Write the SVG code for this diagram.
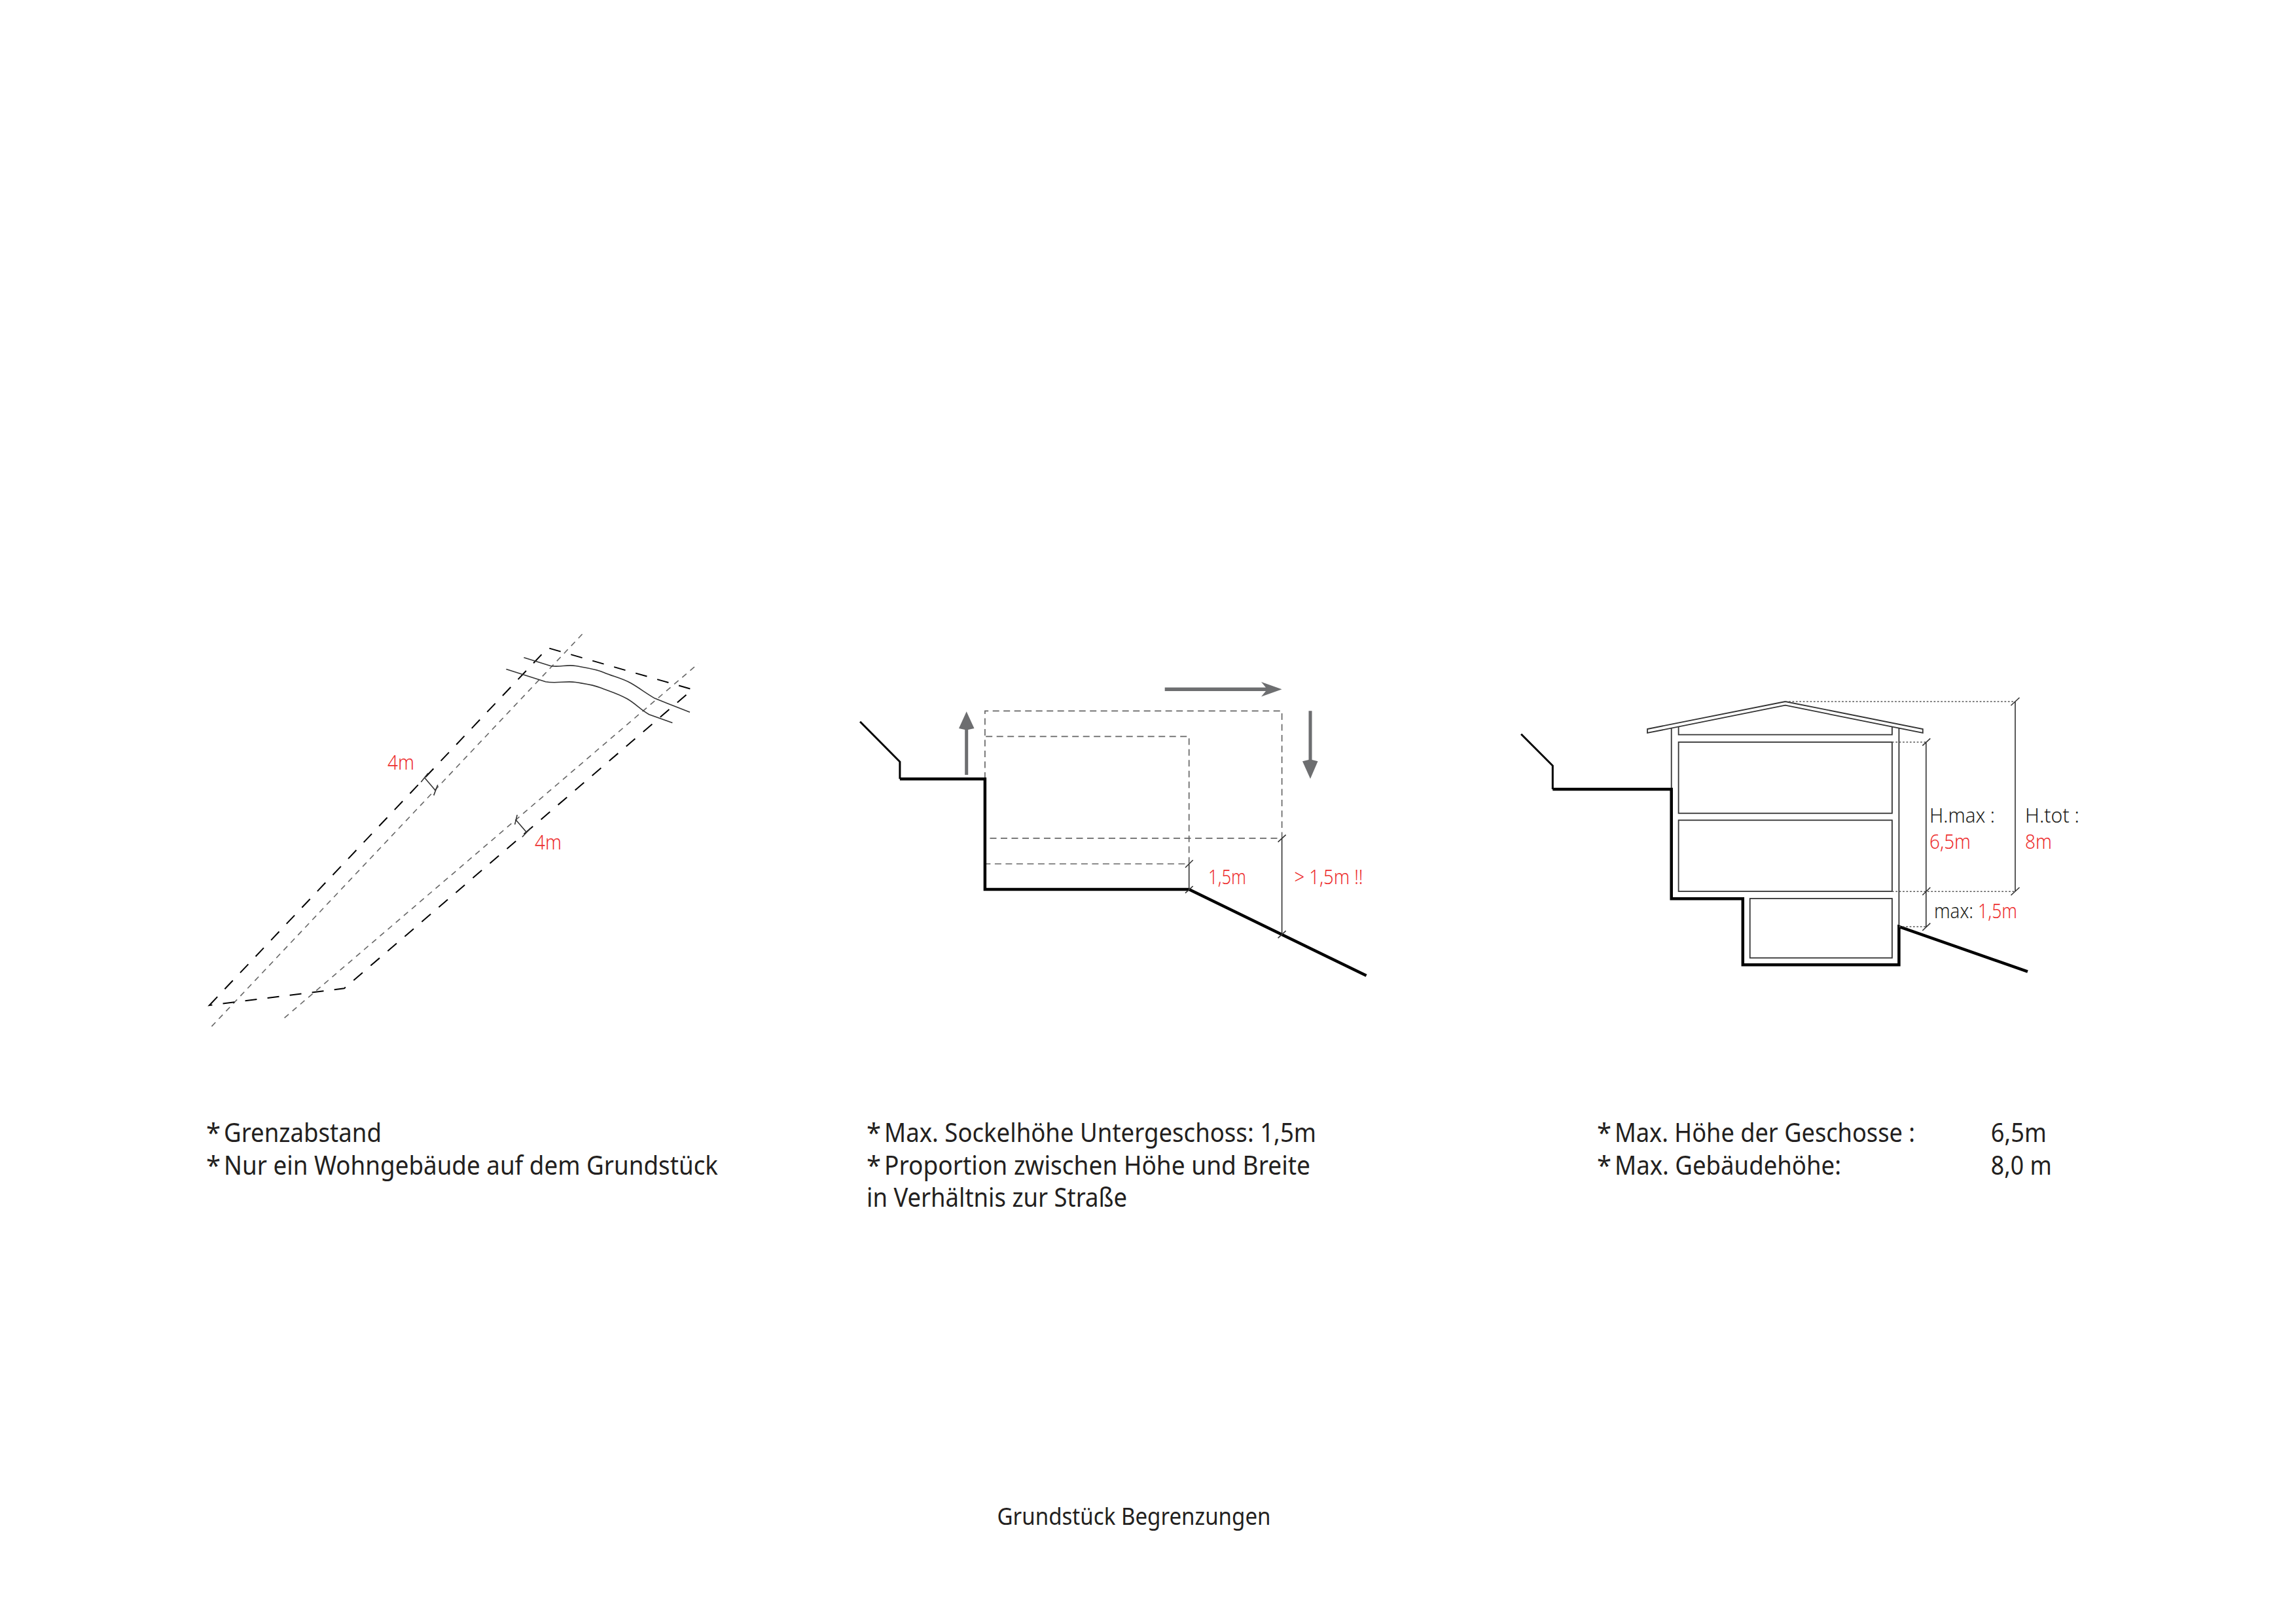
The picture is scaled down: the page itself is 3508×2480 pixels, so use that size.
<svg xmlns="http://www.w3.org/2000/svg" width="3508" height="2480" viewBox="0 0 3508 2480">
<style>
text{font-family:"Noto Sans","Open Sans","Liberation Sans",sans-serif}
.t{font-size:40px;fill:#231f20}
.l{font-size:31px;font-weight:300;fill:#ed2f2f}
.k{font-size:31px;font-weight:300;fill:#231f20}
.g{fill:none;stroke:#000;stroke-width:4.5;stroke-linejoin:miter}
.g2{fill:none;stroke:#000;stroke-width:3}
.th{fill:none;stroke:#333;stroke-width:1.6}
.dg{fill:none;stroke:#666;stroke-width:1.6;stroke-dasharray:8.5 7.5}
.dk{fill:none;stroke:#000;stroke-width:2;stroke-dasharray:18 16.3}
.dr{fill:none;stroke:#666;stroke-width:1.7;stroke-dasharray:10 6.5}
.dot{fill:none;stroke:#555;stroke-width:1.6;stroke-dasharray:2.7 2.7}
.wall{fill:none;stroke:#333;stroke-width:1.8}
.arr{fill:#6d6e70}
</style>
<rect width="3508" height="2480" fill="#fff"/>
<g id="site-plan">
<path class="dg" d="M323.4 1568.4L893.8 964.6M434.6 1555.3L1066.7 1014.2"/>
<path class="dk" d="M319.8 1536.2L837.1 990L1058 1053.6L525.9 1510.3Z"/>
<path class="th" d="M800.4 1004.8L841.2 1017.5C855 1020 866 1015 879.5 1017.5S910 1022 922.9 1027.7S950 1036 963.7 1043.8S985 1058 1000.4 1067.1L1054 1088.3"/>
<path class="th" d="M773.4 1022.6L833.6 1041.7C850 1045 865 1040 879.5 1042.5S905 1046 917.8 1051S945 1060 958.6 1068S978 1084 991.7 1091.7L1027.4 1104.4"/>
<path class="th" d="M648.4 1187.9L665.2 1207.8M643.3 1195L654 1181.5M662.7 1215.4L668.8 1199.3M787.7 1252.3L804.5 1271.8M786.6 1259.9L790.2 1245.1M797.9 1279L810.6 1265.4"/>
<text class="l" x="592" y="1175.5" textLength="41" lengthAdjust="spacingAndGlyphs">4m</text>
<text class="l" x="817" y="1298" textLength="41" lengthAdjust="spacingAndGlyphs">4m</text>
</g>
<g id="plinth-section">
<path class="dr" d="M1504.9 1190V1086.3H1958.6V1280.8H1504.9M1504.9 1190V1125.3H1816.7V1320H1504.9"/>
<path class="g2" d="M1314.1 1102.7L1374.9 1164V1190.3"/>
<path class="g" d="M1374.9 1190.3H1504.9V1359H1816.7L2087.6 1490.7"/>
<path class="th" d="M1816.7 1320V1359M1958.6 1280.8V1427.3M1811 1325.7L1822.7 1314.3M1811 1364.7L1822.7 1354M1952.6 1286.7L1964.6 1275.7M1952.6 1433.3L1964.6 1422.3"/>
<path class="arr" d="M1779.7 1050.5H1934L1927 1042L1958.6 1053.3L1927 1064.5L1934 1056.1H1779.7Z"/>
<path class="arr" d="M1474.2 1184V1115L1465 1113L1476.7 1087.3L1488.5 1113L1479.2 1115V1184Z"/>
<path class="arr" d="M1999.5 1086.3V1161L1990 1163.3L2002 1190L2013.5 1163.3L2004.5 1161V1086.3Z"/>
<text class="l" x="1846" y="1350.7" textLength="58" lengthAdjust="spacingAndGlyphs">1,5m</text>
<text class="l" x="1977.6" y="1350.7" textLength="105" lengthAdjust="spacingAndGlyphs">&gt; 1,5m !!</text>
</g>
<g id="house-section">
<path class="wall" d="M2517 1114L2727.7 1072L2937.8 1114V1120L2727.7 1077.7L2517 1120Z"/>
<path class="wall" d="M2553.7 1112V1373.3M2901.4 1112V1416"/>
<path class="wall" d="M2564.6 1110V1122.7H2890.9V1110"/>
<rect class="wall" x="2564.6" y="1134" width="326.3" height="108.7"/>
<rect class="wall" x="2564.6" y="1253.3" width="326.3" height="108.7"/>
<rect class="wall" x="2673.7" y="1373" width="217.2" height="90.7"/>
<path class="g2" d="M2324.1 1121.7L2372.3 1170V1206"/>
<path class="g" d="M2372.3 1206H2553.7V1373.3H2662.8V1474.3H2901.4V1416L3098 1484.7"/>
<path class="dot" d="M2727.7 1072H3079M2890.9 1134H2943M2890.9 1362.3H3079M2901.4 1416H2943"/>
<path class="th" d="M2942.8 1134V1416M3079 1072V1362M2937.3 1139.3L2949.3 1128.3M2937.3 1367.7L2949.3 1356M2937.3 1422L2949.3 1410.7M3072.5 1078L3085.5 1066M3072.5 1368L3085.5 1356"/>
<text class="k" x="2948" y="1256.7" textLength="100" lengthAdjust="spacingAndGlyphs">H.max :</text>
<text class="l" x="2948" y="1296.7" textLength="63" lengthAdjust="spacingAndGlyphs">6,5m</text>
<text class="k" x="3094" y="1256.7" textLength="83" lengthAdjust="spacingAndGlyphs">H.tot :</text>
<text class="l" x="3094" y="1296.7" textLength="41" lengthAdjust="spacingAndGlyphs">8m</text>
<text class="k" x="2955" y="1402.7" textLength="60" lengthAdjust="spacingAndGlyphs">max:</text>
<text class="l" x="3022" y="1402.7" textLength="60" lengthAdjust="spacingAndGlyphs">1,5m</text>
</g>
<g id="captions">
<text class="t" x="315" y="1744.5">*</text>
<text class="t" x="342" y="1744.5" textLength="241" lengthAdjust="spacingAndGlyphs">Grenzabstand</text>
<text class="t" x="315" y="1794.5">*</text>
<text class="t" x="342" y="1794.5" textLength="755" lengthAdjust="spacingAndGlyphs">Nur ein Wohngebäude auf dem Grundstück</text>
<text class="t" x="1324" y="1744.5">*</text>
<text class="t" x="1351" y="1744.5" textLength="660" lengthAdjust="spacingAndGlyphs">Max. Sockelhöhe Untergeschoss: 1,5m</text>
<text class="t" x="1324" y="1794.5">*</text>
<text class="t" x="1351" y="1794.5" textLength="651" lengthAdjust="spacingAndGlyphs">Proportion zwischen Höhe und Breite</text>
<text class="t" x="1324" y="1844" textLength="398" lengthAdjust="spacingAndGlyphs">in Verhältnis zur Straße</text>
<text class="t" x="2440" y="1744.5">*</text>
<text class="t" x="2467" y="1744.5" textLength="459" lengthAdjust="spacingAndGlyphs">Max. Höhe der Geschosse :</text>
<text class="t" x="3041.8" y="1744.5" textLength="85" lengthAdjust="spacingAndGlyphs">6,5m</text>
<text class="t" x="2440" y="1794.5">*</text>
<text class="t" x="2467" y="1794.5" textLength="346" lengthAdjust="spacingAndGlyphs">Max. Gebäudehöhe:</text>
<text class="t" x="3041.8" y="1794.5" textLength="93" lengthAdjust="spacingAndGlyphs">8,0 m</text>
<text class="t" x="1523.5" y="2329.5" textLength="418" lengthAdjust="spacingAndGlyphs" style="font-size:36px">Grundstück Begrenzungen</text>
</g>
</svg>
